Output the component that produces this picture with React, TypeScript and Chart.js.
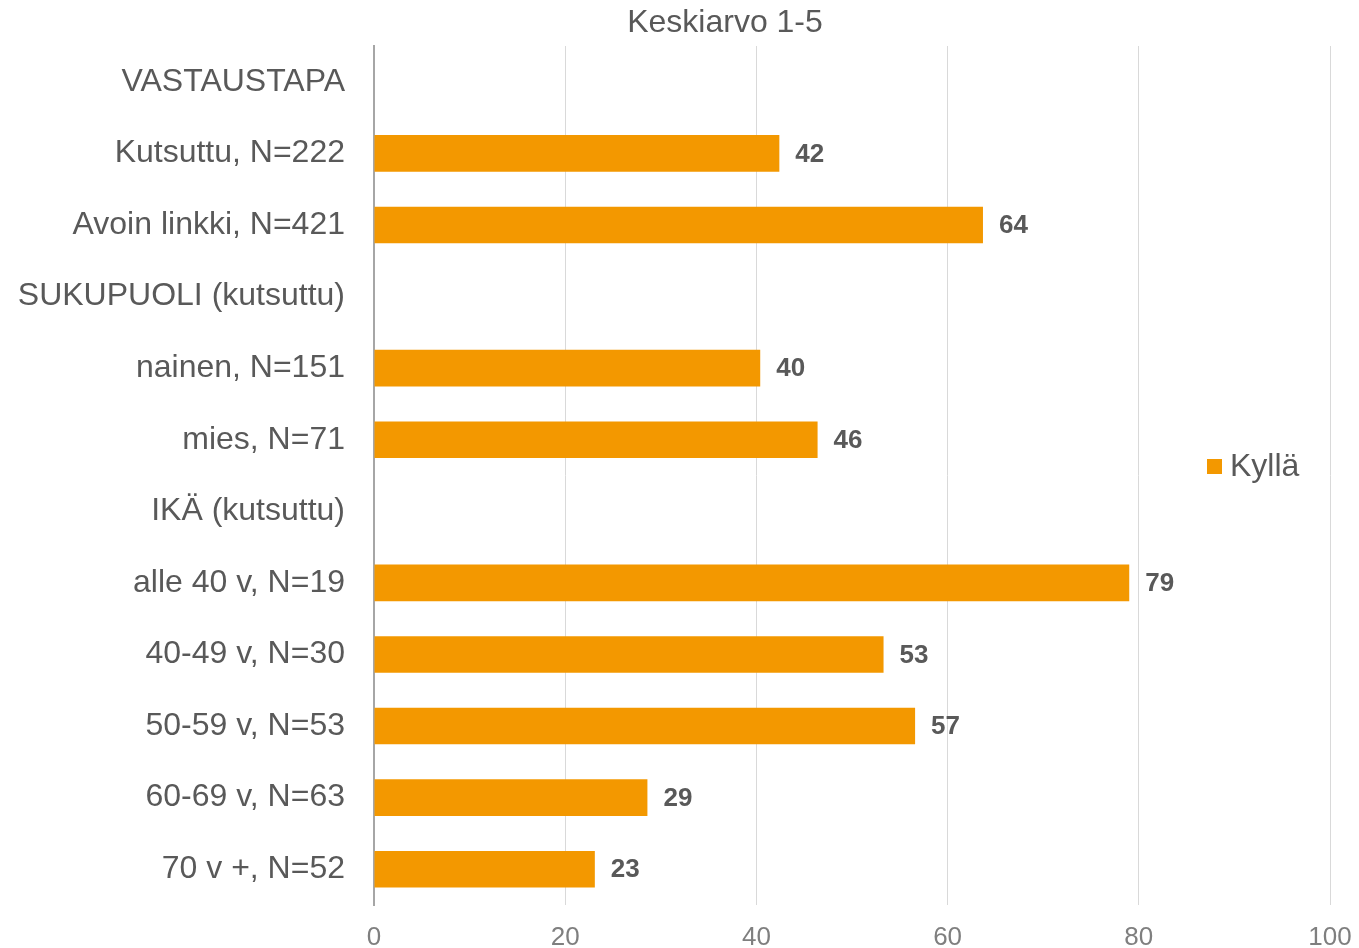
import React, { useEffect, useRef } from "react";
import { Chart, registerables } from "chart.js";

Chart.register(...registerables);

const categories: string[] = [
  "VASTAUSTAPA",
  "Kutsuttu, N=222",
  "Avoin linkki, N=421",
  "SUKUPUOLI (kutsuttu)",
  "nainen, N=151",
  "mies, N=71",
  "IKÄ (kutsuttu)",
  "alle 40 v, N=19",
  "40-49 v, N=30",
  "50-59 v, N=53",
  "60-69 v, N=63",
  "70 v +, N=52",
];

const kyllaValues: (number | null)[] = [
  null, 42.4, 63.7, null, 40.4, 46.4, null, 79.0, 53.3, 56.6, 28.6, 23.1,
];

const seriesLabel = "Kyllä";
const chartTitle = "Keskiarvo 1-5";
const xMin = 0;
const xMax = 100;
const xStep = 20;

const FONT = '"Liberation Sans", Arial, sans-serif';
const BAR_COLOR = "#F39800";
const TEXT_DARK = "#595959";
const TEXT_TICK = "#7F7F7F";

const dataLabelPlugin = {
  id: "dataLabels",
  afterDatasetsDraw(chart: any) {
    const ctx = chart.ctx;
    ctx.save();
    ctx.font = `bold 26px ${FONT}`;
    ctx.fillStyle = TEXT_DARK;
    ctx.textAlign = "left";
    ctx.textBaseline = "middle";
    chart.data.datasets.forEach((ds: any, di: number) => {
      const meta = chart.getDatasetMeta(di);
      meta.data.forEach((el: any, i: number) => {
        const v = ds.data[i];
        if (v === null || v === undefined) return;
        ctx.fillText(String(Math.round(v)), el.x + 16, el.y + 1);
      });
    });
    ctx.restore();
  },
};

const titleLegendPlugin = {
  id: "titleLegend",
  afterDraw(chart: any) {
    const ctx = chart.ctx;
    ctx.save();
    // title
    ctx.font = `32px ${FONT}`;
    ctx.fillStyle = TEXT_DARK;
    ctx.textAlign = "center";
    ctx.textBaseline = "middle";
    ctx.fillText(chartTitle, 725, 23);
    // legend
    const x = 1207;
    const y = 466;
    ctx.fillStyle = BAR_COLOR;
    ctx.fillRect(x, y - 7, 15, 15);
    ctx.fillStyle = TEXT_DARK;
    ctx.textAlign = "left";
    ctx.fillText(seriesLabel, x + 23, y + 1);
    ctx.restore();
  },
};

export default function App() {
  const canvasRef = useRef<HTMLCanvasElement | null>(null);

  useEffect(() => {
    document.body.style.margin = "0";
    const canvas = canvasRef.current;
    if (!canvas) return;
    const chart = new Chart(canvas, {
      type: "bar",
      data: {
        labels: categories,
        datasets: [
          {
            label: seriesLabel,
            data: kyllaValues as any,
            backgroundColor: BAR_COLOR,
            borderWidth: 0,
            barPercentage: 0.51,
            categoryPercentage: 1,
          },
        ],
      },
      options: {
        indexAxis: "y",
        responsive: false,
        animation: false,
        layout: { padding: { left: 0, right: 29, top: 46, bottom: 0 } },
        plugins: {
          legend: { display: false },
          tooltip: { enabled: false },
          title: { display: false },
        },
        scales: {
          x: {
            type: "linear",
            min: xMin,
            max: xMax,
            ticks: {
              stepSize: xStep,
              color: TEXT_TICK,
              font: { family: FONT, size: 26 },
              padding: 17,
            },
            grid: {
              display: true,
              color: "#D9D9D9",
              lineWidth: 1,
              drawTicks: false,
            },
            border: { display: false },
            afterFit: (s: any) => {
              s.height = 43;
              s.paddingLeft = 0;
              s.paddingRight = 0;
            },
          },
          y: {
            ticks: {
              color: TEXT_DARK,
              font: { family: FONT, size: 32 },
              padding: 29,
              autoSkip: false,
            },
            grid: { display: false, drawTicks: false },
            border: { display: true, color: "#A6A6A6", width: 2 },
            afterFit: (s: any) => {
              s.width = 374;
              s.paddingTop = 0;
              s.paddingBottom = 0;
            },
          },
        },
      },
      plugins: [dataLabelPlugin, titleLegendPlugin],
    });
    return () => chart.destroy();
  }, []);

  return (
    <div style={{ width: 1359, height: 948, background: "#fff" }}>
      <canvas ref={canvasRef} width={1359} height={948} style={{ display: "block" }} />
    </div>
  );
}
